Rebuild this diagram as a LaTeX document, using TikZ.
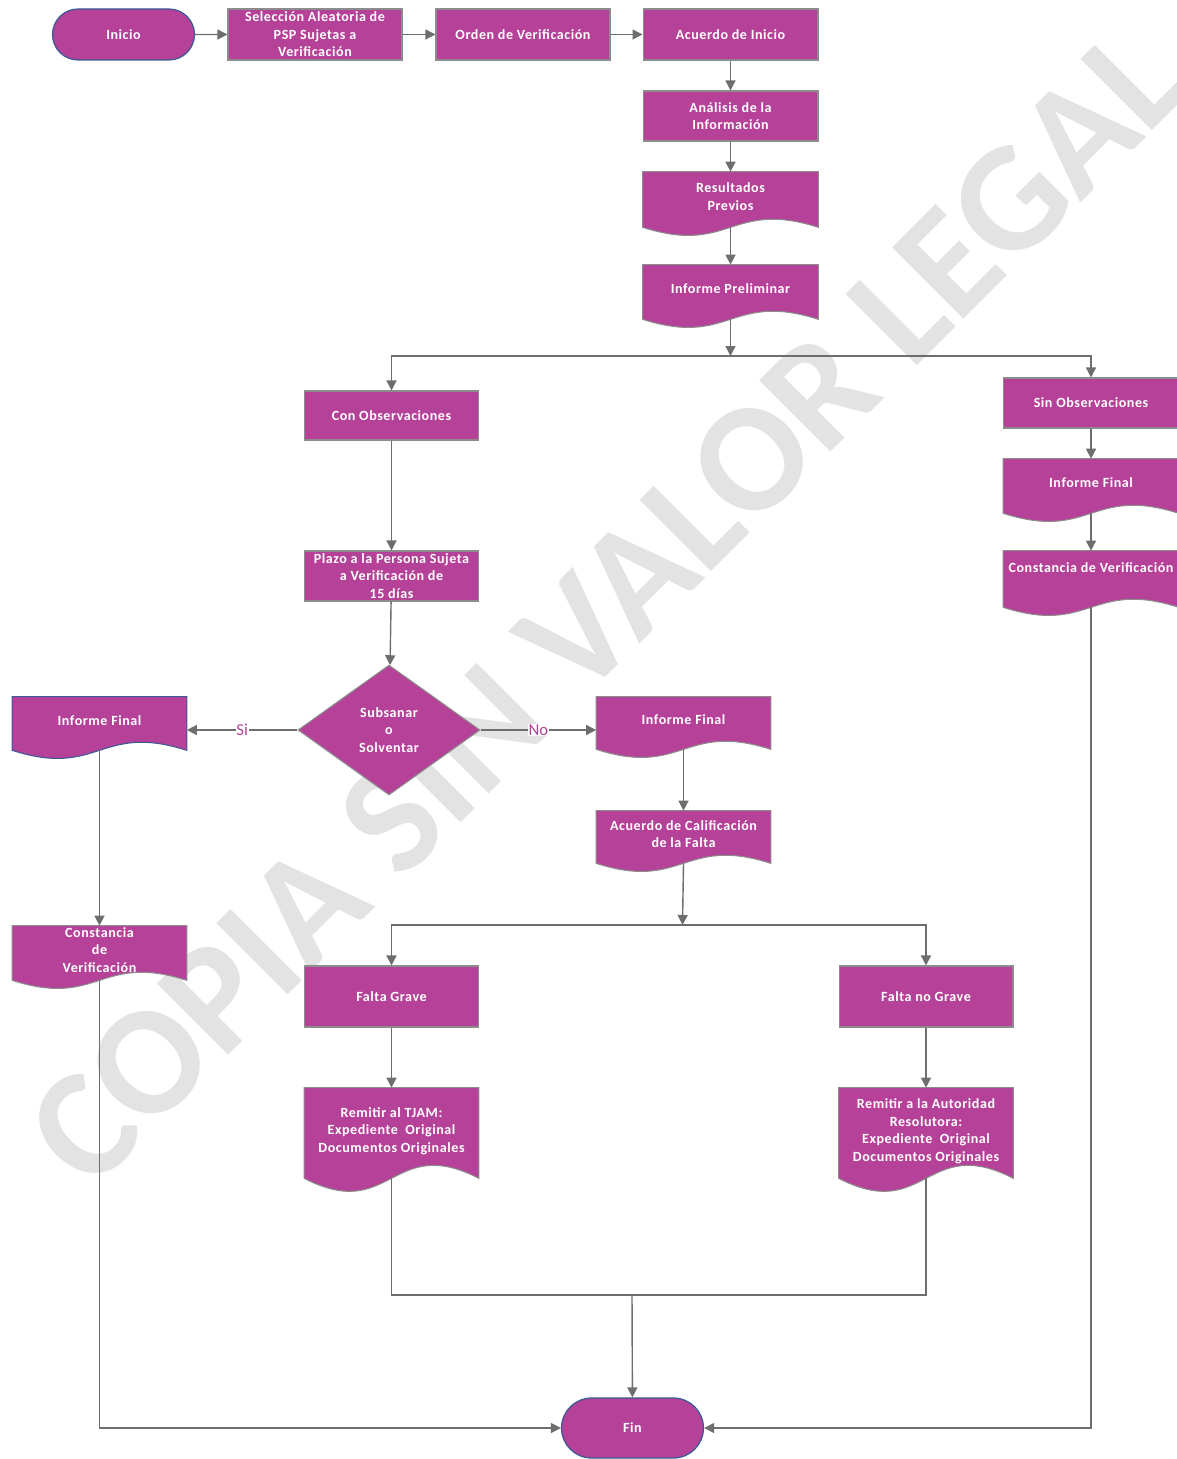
\documentclass[tikz,border=0pt]{standalone}
\usepackage{fontspec}
\setmainfont{Carlito}
\newfontfamily\cajafont[LetterSpace=4]{Carlito}
\usetikzlibrary{arrows.meta,calc}
\usetikzlibrary{shapes.geometric,shapes.misc}
\usetikzlibrary{positioning,backgrounds}

\definecolor{flujo}{RGB}{181,65,152}
\definecolor{borde}{RGB}{140,140,140}
\definecolor{bordeazul}{RGB}{60,90,150}
\definecolor{conector}{RGB}{110,110,110}
\definecolor{marca}{RGB}{227,227,227}

\tikzstyle{line}=[-, draw=conector, line width=0.8pt]
\tikzstyle{arrow}=[line, -{Triangle[length=2mm,width=2mm]}]
\tikzstyle{caja}=[text=white, align=center, inner sep=0pt,
  font=\cajafont\bfseries\fontsize{8}{9.9}\selectfont]
\tikzstyle{proc}=[caja, rectangle, draw=borde, fill=flujo, line width=0.6pt,
  minimum width=3.48cm, minimum height=1.0cm]
\tikzstyle{docu}=[caja, rectangle, minimum width=3.48cm,
  execute at end node={\rule[-0.12cm]{0pt}{0pt}}]
\tikzstyle{docline}=[draw=borde, fill=flujo, line width=0.6pt]
\tikzstyle{term}=[caja, rounded rectangle, draw=bordeazul, fill=flujo,
  line width=0.7pt, minimum width=2.84cm]
\tikzstyle{decision}=[caja, diamond, draw=borde, fill=flujo, line width=0.6pt,
  minimum width=3.64cm, minimum height=2.6cm]
\tikzstyle{etiq}=[fill=white, text=flujo, inner sep=0.5pt,
  font=\fontsize{9.5}{11}\selectfont]

% document shape: wavy lower edge drawn behind the node
\newcommand{\docwave}[3][borde]{%
  \filldraw[docline, draw=#1] (#2.north west) -- (#2.north east) -- (#2.south east)
  .. controls ($(#2.south)+(0,-#3)$) and ($(#2.south)+(0,#3)$) .. (#2.south west)
  -- cycle;}

\begin{document}
\begin{tikzpicture}[x=0.02cm,y=-0.02cm]
  \useasboundingbox (0,0) rectangle (1176,1459);

  % top row
  \node[term, minimum height=1.02cm] (inicio) at (123.5,34.5) {Inicio};
  \node[proc, minimum height=1.02cm] (sel) at (315,34.5)
    {Selección Aleatoria de\\PSP Sujetas a\\Verificación};
  \node[proc, minimum height=1.02cm] (orden) at (523,34.5) {Orden de Verificación};
  \node[proc, minimum width=3.5cm, minimum height=1.02cm] (acuerdo) at (730.5,34.5)
    {Acuerdo de Inicio};
  \node[proc, minimum width=3.5cm] (analisis) at (730.5,116)
    {Análisis de la\\Información};
  \node[docu, minimum width=3.5cm, minimum height=1.1cm] (resultados) at (730.5,199.5)
    {Resultados\\Previos};
  \node[docu, minimum width=3.5cm, minimum height=1.08cm] (prelim) at (730.5,292)
    {Informe Preliminar};
  \coordinate (split1) at (730.5,356);

  % con observaciones
  \node[proc, minimum height=0.98cm] (conobs) at (391.5,415.5) {Con Observaciones};
  \node[proc] (plazo) at (391.5,576)
    {Plazo a la Persona Sujeta\\a Verificación de\\15 días};
  \node[decision] (dec) at (389,730) {Subsanar\\o\\Solventar};
  \node[docu, minimum height=1.06cm] (ifizq) at (99.5,723.5) {Informe Final};
  \node[docu, minimum height=1.08cm] (constizq) at (99.5,953)
    {Constancia\\de\\Verificación};
  \node[docu, minimum height=1.04cm] (ifmed) at (683.5,723) {Informe Final};
  \node[docu, minimum height=1.04cm] (acuerdocal) at (683.5,837)
    {Acuerdo de Calificación\\de la Falta};
  \coordinate (split2) at (682.5,925);
  \node[proc, minimum height=1.22cm] (fgrave) at (391.5,996.5) {Falta Grave};
  \node[proc, minimum height=1.22cm] (fnograve) at (926,996.5) {Falta no Grave};
  \node[docu, minimum height=1.8cm] (tjam) at (391.5,1133)
    {Remitir al TJAM:\\Expediente \ Original\\Documentos Originales};
  \node[docu, minimum height=1.8cm] (autoridad) at (926,1133)
    {Remitir a la Autoridad\\Resolutora:\\Expediente \ Original\\Documentos Originales};
  \coordinate (join) at (632,1295);

  % sin observaciones
  \node[proc, minimum width=3.5cm] (sinobs) at (1091,403) {Sin Observaciones};
  \node[docu, minimum width=3.5cm, minimum height=1.08cm] (ifder) at (1091,486)
    {Informe Final};
  \node[docu, minimum width=3.5cm, minimum height=1.12cm] (constder) at (1091,579)
    {Constancia de Verificación\\~};

  \node[term, minimum height=1.2cm] (fin) at (632.5,1428) {Fin};

  % watermark and wavy shapes go behind
  \begin{scope}[on background layer]
    \node[rotate=45, text=marca, font=\bfseries\fontsize{88.5}{88.5}\selectfont]
      (marcaagua) at (606,606) {COPIA SIN VALOR LEGAL};
    \docwave{resultados}{28}
    \docwave{prelim}{28}
    \docwave{ifder}{28}
    \docwave{constder}{28}
    \docwave[bordeazul]{ifizq}{28}
    \docwave{constizq}{28}
    \docwave{ifmed}{28}
    \docwave{acuerdocal}{28}
    \docwave{tjam}{45}
    \docwave{autoridad}{45}
  \end{scope}

  % connectors
  \draw[arrow] (inicio) -- (sel);
  \draw[arrow] (sel) -- (orden);
  \draw[arrow] (orden) -- (acuerdo);
  \draw[arrow] (acuerdo) -- (analisis);
  \draw[arrow] (analisis) -- (resultados);
  \draw[arrow] (resultados.south) -- (prelim);
  \draw[arrow] (prelim.south) -- (split1);
  \draw[arrow] (split1) -| (conobs);
  \draw[arrow] (split1) -| (sinobs);

  \draw[arrow] (conobs) -- (plazo);
  \draw[arrow] (plazo) -- (dec);
  \draw[arrow] (dec.west) -- node[etiq] {Si} (dec.west -| ifizq.east);
  \draw[arrow] (dec.east) -- node[etiq] {No} (dec.east -| ifmed.west);
  \draw[arrow] (ifizq.south) -- (constizq);
  \draw[arrow] (ifmed.south) -- (acuerdocal);
  \draw[arrow] (acuerdocal.south) -- (split2);
  \draw[arrow] (split2) -| (fgrave);
  \draw[arrow] (split2) -| (fnograve);
  \draw[arrow] (fgrave) -- (tjam);
  \draw[arrow] (fnograve) -- (autoridad);
  \draw[line] (tjam.south) |- (join) -| (autoridad.south);
  \draw[arrow] (join) -- (fin);

  \draw[arrow] (sinobs) -- (ifder);
  \draw[arrow] (ifder.south) -- (constder);
  \draw[arrow] (constder.south) |- (fin.east);
  \draw[arrow] (constizq.south) |- (fin.west);
\end{tikzpicture}
\end{document}
